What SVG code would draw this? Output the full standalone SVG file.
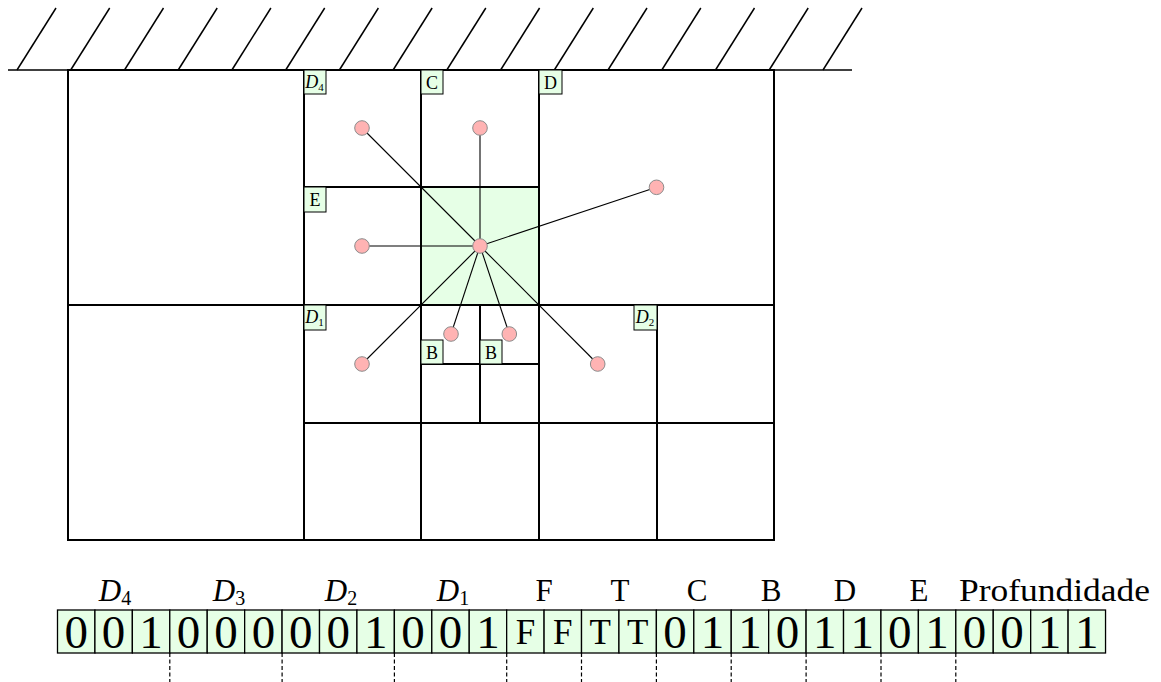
<svg xmlns="http://www.w3.org/2000/svg" width="1161" height="682" viewBox="0 0 1161 682">
<style>
.bg{fill:#ffffff}
.hatch{stroke:#000;stroke-width:1.5;fill:none}
.grid{stroke:#000;stroke-width:2;fill:none;stroke-linecap:square}
.green{fill:#e6ffe6}
.lbl{fill:#e6ffe6;stroke:#000;stroke-width:1}
.lt{font-family:"Liberation Serif","Times New Roman",serif;font-size:18px;fill:#000;text-anchor:middle}
.edge{stroke:#000;stroke-width:1.1;fill:none}
.pt{fill:#ffb3b3;stroke:#8c8c8c;stroke-width:1}
.cell{fill:#e6ffe6;stroke:#000;stroke-width:1.3}
.dig{font-family:"Liberation Serif","Times New Roman",serif;font-size:47px;fill:#000;text-anchor:middle}
.ft{font-family:"Liberation Serif","Times New Roman",serif;font-size:35px;fill:#000;text-anchor:middle}
.hdr{font-family:"Liberation Serif","Times New Roman",serif;font-size:31px;fill:#000;text-anchor:middle}
.hdrs{font-family:"Liberation Serif","Times New Roman",serif;font-size:31px;fill:#000;text-anchor:start}
.dash{stroke:#000;stroke-width:1.2;stroke-dasharray:4 2.5;fill:none}
</style>
<rect class="bg" x="0" y="0" width="1161" height="682"/>

<g id="ground">
<line class="hatch" x1="8" y1="70" x2="852" y2="70"/>
<line class="hatch" x1="17" y1="70" x2="56" y2="8"/>
<line class="hatch" x1="70.7" y1="70" x2="109.7" y2="8"/>
<line class="hatch" x1="124.5" y1="70" x2="163.5" y2="8"/>
<line class="hatch" x1="178.2" y1="70" x2="217.2" y2="8"/>
<line class="hatch" x1="231.9" y1="70" x2="270.9" y2="8"/>
<line class="hatch" x1="285.7" y1="70" x2="324.7" y2="8"/>
<line class="hatch" x1="339.4" y1="70" x2="378.4" y2="8"/>
<line class="hatch" x1="393.1" y1="70" x2="432.1" y2="8"/>
<line class="hatch" x1="446.8" y1="70" x2="485.8" y2="8"/>
<line class="hatch" x1="500.6" y1="70" x2="539.6" y2="8"/>
<line class="hatch" x1="554.3" y1="70" x2="593.3" y2="8"/>
<line class="hatch" x1="608" y1="70" x2="647" y2="8"/>
<line class="hatch" x1="661.8" y1="70" x2="700.8" y2="8"/>
<line class="hatch" x1="715.5" y1="70" x2="754.5" y2="8"/>
<line class="hatch" x1="769.2" y1="70" x2="808.2" y2="8"/>
<line class="hatch" x1="823" y1="70" x2="862" y2="8"/>
</g>

<g id="quadtree">
<rect class="green" x="421" y="187" width="118" height="118"/>
<rect class="grid" x="68" y="70" width="706" height="470"/>
<line class="grid" x1="304" y1="70" x2="304" y2="540"/>
<line class="grid" x1="68" y1="305" x2="774" y2="305"/>
<line class="grid" x1="539" y1="70" x2="539" y2="540"/>
<line class="grid" x1="421" y1="70" x2="421" y2="540"/>
<line class="grid" x1="304" y1="187" x2="539" y2="187"/>
<line class="grid" x1="304" y1="423" x2="774" y2="423"/>
<line class="grid" x1="657" y1="305" x2="657" y2="540"/>
<line class="grid" x1="480" y1="305" x2="480" y2="423"/>
<line class="grid" x1="421" y1="364" x2="539" y2="364"/>
</g>

<g id="label-D4"><rect class="lbl" x="304" y="70" width="22" height="24"/><text class="lt" x="314.5" y="88"><tspan font-style="italic">D</tspan><tspan font-size="11" dy="3">4</tspan></text></g>
<g id="label-C"><rect class="lbl" x="421" y="70" width="22" height="24"/><text class="lt" x="432" y="88.5">C</text></g>
<g id="label-D"><rect class="lbl" x="539" y="70" width="23" height="24"/><text class="lt" x="550.5" y="88.5">D</text></g>
<g id="label-E"><rect class="lbl" x="304" y="187" width="22" height="25"/><text class="lt" x="315" y="206">E</text></g>
<g id="label-D1"><rect class="lbl" x="304" y="305" width="22" height="25"/><text class="lt" x="314.5" y="323"><tspan font-style="italic">D</tspan><tspan font-size="11" dy="3">1</tspan></text></g>
<g id="label-D2"><rect class="lbl" x="634" y="305" width="23" height="25"/><text class="lt" x="645" y="323"><tspan font-style="italic">D</tspan><tspan font-size="11" dy="3">2</tspan></text></g>
<g id="label-B1"><rect class="lbl" x="421" y="340" width="22" height="24"/><text class="lt" x="432" y="358.5">B</text></g>
<g id="label-B2"><rect class="lbl" x="480" y="340" width="22" height="24"/><text class="lt" x="491" y="358.5">B</text></g>

<g id="connectors">
<line class="edge" x1="480" y1="246" x2="362" y2="128"/>
<line class="edge" x1="480" y1="246" x2="480" y2="128"/>
<line class="edge" x1="480" y1="246" x2="656.5" y2="187.3"/>
<line class="edge" x1="480" y1="246" x2="362" y2="246"/>
<line class="edge" x1="480" y1="246" x2="451" y2="334"/>
<line class="edge" x1="480" y1="246" x2="509.3" y2="334"/>
<line class="edge" x1="480" y1="246" x2="362" y2="364"/>
<line class="edge" x1="480" y1="246" x2="597.7" y2="364"/>
</g>

<g id="node-center"><circle class="pt" cx="480" cy="246" r="7.3"/></g>
<g id="node-D4"><circle class="pt" cx="362" cy="128" r="7.3"/></g>
<g id="node-C"><circle class="pt" cx="480" cy="128" r="7.3"/></g>
<g id="node-D"><circle class="pt" cx="656.5" cy="187.3" r="7.3"/></g>
<g id="node-E"><circle class="pt" cx="362" cy="246" r="7.3"/></g>
<g id="node-B1"><circle class="pt" cx="451" cy="334" r="7.3"/></g>
<g id="node-B2"><circle class="pt" cx="509.3" cy="334" r="7.3"/></g>
<g id="node-D1"><circle class="pt" cx="362" cy="364" r="7.3"/></g>
<g id="node-D2"><circle class="pt" cx="597.7" cy="364" r="7.3"/></g>

<g id="array">
<rect class="cell" x="57.5" y="610" width="37.43" height="43"/>
<rect class="cell" x="94.93" y="610" width="37.43" height="43"/>
<rect class="cell" x="132.36" y="610" width="37.43" height="43"/>
<rect class="cell" x="169.79" y="610" width="37.43" height="43"/>
<rect class="cell" x="207.22" y="610" width="37.43" height="43"/>
<rect class="cell" x="244.65" y="610" width="37.43" height="43"/>
<rect class="cell" x="282.08" y="610" width="37.43" height="43"/>
<rect class="cell" x="319.51" y="610" width="37.43" height="43"/>
<rect class="cell" x="356.94" y="610" width="37.43" height="43"/>
<rect class="cell" x="394.37" y="610" width="37.43" height="43"/>
<rect class="cell" x="431.8" y="610" width="37.43" height="43"/>
<rect class="cell" x="469.23" y="610" width="37.43" height="43"/>
<rect class="cell" x="506.66" y="610" width="37.43" height="43"/>
<rect class="cell" x="544.09" y="610" width="37.43" height="43"/>
<rect class="cell" x="581.52" y="610" width="37.43" height="43"/>
<rect class="cell" x="618.95" y="610" width="37.43" height="43"/>
<rect class="cell" x="656.38" y="610" width="37.43" height="43"/>
<rect class="cell" x="693.81" y="610" width="37.43" height="43"/>
<rect class="cell" x="731.24" y="610" width="37.43" height="43"/>
<rect class="cell" x="768.67" y="610" width="37.43" height="43"/>
<rect class="cell" x="806.1" y="610" width="37.43" height="43"/>
<rect class="cell" x="843.53" y="610" width="37.43" height="43"/>
<rect class="cell" x="880.96" y="610" width="37.43" height="43"/>
<rect class="cell" x="918.39" y="610" width="37.43" height="43"/>
<rect class="cell" x="955.82" y="610" width="37.43" height="43"/>
<rect class="cell" x="993.25" y="610" width="37.43" height="43"/>
<rect class="cell" x="1030.68" y="610" width="37.43" height="43"/>
<rect class="cell" x="1068.11" y="610" width="37.43" height="43"/>

<text class="dig" x="76.2" y="648">0</text>
<text class="dig" x="113.6" y="648">0</text>
<text class="dig" x="151.1" y="648">1</text>
<text class="dig" x="188.5" y="648">0</text>
<text class="dig" x="225.9" y="648">0</text>
<text class="dig" x="263.4" y="648">0</text>
<text class="dig" x="300.8" y="648">0</text>
<text class="dig" x="338.2" y="648">0</text>
<text class="dig" x="375.7" y="648">1</text>
<text class="dig" x="413.1" y="648">0</text>
<text class="dig" x="450.5" y="648">0</text>
<text class="dig" x="487.9" y="648">1</text>
<text class="ft" x="525.4" y="644">F</text>
<text class="ft" x="562.8" y="644">F</text>
<text class="ft" x="600.2" y="644">T</text>
<text class="ft" x="637.7" y="644">T</text>
<text class="dig" x="675.1" y="648">0</text>
<text class="dig" x="712.5" y="648">1</text>
<text class="dig" x="750" y="648">1</text>
<text class="dig" x="787.4" y="648">0</text>
<text class="dig" x="824.8" y="648">1</text>
<text class="dig" x="862.2" y="648">1</text>
<text class="dig" x="899.7" y="648">0</text>
<text class="dig" x="937.1" y="648">1</text>
<text class="dig" x="974.5" y="648">0</text>
<text class="dig" x="1012" y="648">0</text>
<text class="dig" x="1049.4" y="648">1</text>
<text class="dig" x="1086.8" y="648">1</text>

<line class="dash" x1="169.8" y1="653" x2="169.8" y2="682"/>
<line class="dash" x1="282.1" y1="653" x2="282.1" y2="682"/>
<line class="dash" x1="394.4" y1="653" x2="394.4" y2="682"/>
<line class="dash" x1="506.7" y1="653" x2="506.7" y2="682"/>
<line class="dash" x1="581.5" y1="653" x2="581.5" y2="682"/>
<line class="dash" x1="656.4" y1="653" x2="656.4" y2="682"/>
<line class="dash" x1="731.2" y1="653" x2="731.2" y2="682"/>
<line class="dash" x1="806.1" y1="653" x2="806.1" y2="682"/>
<line class="dash" x1="881" y1="653" x2="881" y2="682"/>
<line class="dash" x1="955.8" y1="653" x2="955.8" y2="682"/>

<text class="hdr" x="115" y="601"><tspan font-style="italic">D</tspan><tspan font-size="20" dy="4">4</tspan></text>
<text class="hdr" x="229" y="601"><tspan font-style="italic">D</tspan><tspan font-size="20" dy="4">3</tspan></text>
<text class="hdr" x="341" y="601"><tspan font-style="italic">D</tspan><tspan font-size="20" dy="4">2</tspan></text>
<text class="hdr" x="453" y="601"><tspan font-style="italic">D</tspan><tspan font-size="20" dy="4">1</tspan></text>
<text class="hdr" x="544" y="601">F</text>
<text class="hdr" x="620" y="601">T</text>
<text class="hdr" x="697" y="601">C</text>
<text class="hdr" x="771" y="601">B</text>
<text class="hdr" x="845" y="601">D</text>
<text class="hdr" x="919" y="601">E</text>
<text class="hdrs" x="959" y="601" textLength="191" lengthAdjust="spacingAndGlyphs">Profundidade</text>
</g>
</svg>
